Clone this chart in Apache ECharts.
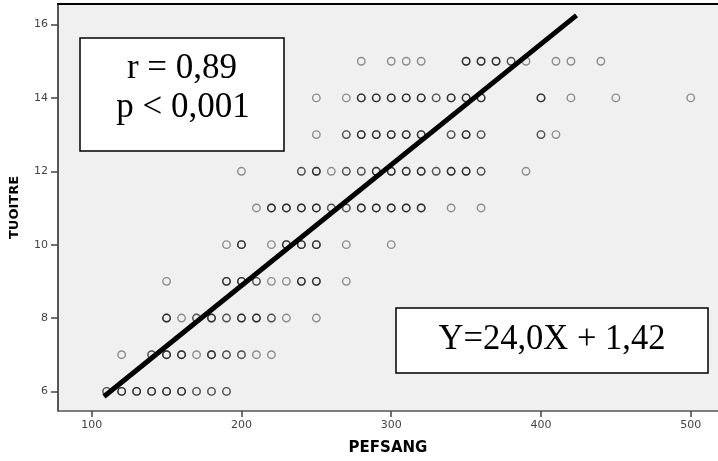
<!DOCTYPE html>
<html>
<head>
    <meta charset="UTF-8">
    <title>PEFSANG - TUOITRE</title>
    <script src="https://cdn.jsdelivr.net/npm/echarts@6/dist/echarts.min.js"></script>
</head>
<body style="margin:0;background:#fff;">
    <div id="main" style="width:718px;height:461px;"></div>
    <script type="text/javascript">
        // 每行: [PEFSANG, 重叠点数]
        var row6 = [[110, 2], [120, 3], [130, 3], [140, 3], [150, 3], [160, 3], [170, 2], [180, 2], [190, 2]];
        var row7 = [[120, 1], [140, 2], [150, 3], [160, 3], [170, 1], [180, 3], [190, 2], [200, 2], [210, 1], [220, 1]];
        var row8 = [[150, 3], [160, 1], [170, 2], [180, 3], [190, 2], [200, 3], [210, 3], [220, 2], [230, 1], [250, 1]];
        var row9 = [[150, 1], [190, 3], [200, 3], [210, 2], [220, 1], [230, 1], [240, 3], [250, 3], [270, 1]];
        var row10 = [[190, 1], [200, 3], [220, 1], [230, 3], [240, 3], [250, 3], [270, 1], [300, 1]];
        var row11 = [[210, 1], [220, 3], [230, 3], [240, 3], [250, 3], [260, 2], [270, 2], [280, 3], [290, 3], [300, 3], [310, 3], [320, 3], [340, 1], [360, 1]];
        var row12 = [[200, 1], [240, 2], [250, 3], [260, 1], [270, 2], [280, 2], [290, 3], [300, 3], [310, 3], [320, 3], [330, 2], [340, 3], [350, 3], [360, 2], [390, 1]];
        var row13 = [[250, 1], [270, 2], [280, 3], [290, 3], [300, 3], [310, 3], [320, 3], [340, 2], [350, 3], [360, 2], [400, 2], [410, 1]];
        var row14 = [[250, 1], [270, 1], [280, 3], [290, 3], [300, 3], [310, 3], [320, 3], [330, 2], [340, 3], [350, 3], [360, 3], [400, 3], [420, 1], [450, 1], [500, 1]];
        var row15 = [[280, 1], [300, 1], [310, 1], [320, 1], [350, 3], [360, 3], [370, 3], [380, 2], [390, 1], [410, 1], [420, 1], [440, 1]];
        var rowY = [6, 7, 8, 9, 10, 11, 12, 13, 14, 15];
        var rows = [row6, row7, row8, row9, row10, row11, row12, row13, row14, row15];

        // 回归线两端
        var fitLine = [[108.2, 5.86], [423.7, 16.25]];

        var xTicks = [100, 200, 300, 400, 500];
        var yTicks = [6, 8, 10, 12, 14, 16];

        // 展开重叠点
        var points = [];
        for (var i = 0; i < rows.length; i++) {
            for (var j = 0; j < rows[i].length; j++) {
                for (var k = 0; k < rows[i][j][1]; k++) {
                    points.push([rows[i][j][0], rowY[i]]);
                }
            }
        }

        var xMin = 77.5, xMax = 518.2, yMin = 5.466, yMax = 16.56;
        var tickFont = { fontFamily: 'DejaVu Sans', fontSize: 11, color: '#444' };

        var myChart = echarts.init(document.getElementById('main'));
        myChart.setOption({
            backgroundColor: '#fff',
            animation: false,
            grid: {
                left: 58, top: 4, right: 0, bottom: 47,
                show: true,
                backgroundColor: '#f0f0f0',
                borderWidth: 0
            },
            xAxis: [{
                type: 'value',
                min: xMin, max: xMax,
                name: 'PEFSANG',
                nameLocation: 'middle',
                nameGap: 30,
                nameTextStyle: { fontFamily: 'DejaVu Sans', fontWeight: 'bold', fontSize: 15, color: '#000' },
                axisLine: { lineStyle: { color: '#555', width: 1.5 } },
                axisTick: { show: true, length: 6, customValues: xTicks, lineStyle: { color: '#444', width: 1.5 } },
                axisLabel: Object.assign({ customValues: xTicks, margin: 9 }, tickFont),
                splitLine: { show: false }
            }, {
                type: 'value',
                position: 'top',
                min: xMin, max: xMax,
                axisLine: { show: true, lineStyle: { color: '#000', width: 2 } },
                axisTick: { show: false },
                axisLabel: { show: false },
                splitLine: { show: false }
            }],
            yAxis: {
                type: 'value',
                min: yMin, max: yMax,
                name: 'TUOITRE',
                nameLocation: 'middle',
                nameGap: 37,
                nameTextStyle: { fontFamily: 'DejaVu Sans', fontWeight: 'bold', fontSize: 13, color: '#000' },
                axisLine: { show: true, lineStyle: { color: '#222', width: 1.5 } },
                axisTick: { show: true, length: 7, customValues: yTicks, lineStyle: { color: '#444', width: 1.5 } },
                axisLabel: Object.assign({ customValues: yTicks, margin: 10 }, tickFont),
                splitLine: { show: false }
            },
            series: [{
                type: 'scatter',
                data: points,
                symbol: 'circle',
                symbolSize: 7.5,
                itemStyle: {
                    color: 'rgba(0,0,0,0)',
                    borderColor: 'rgba(0,0,0,0.52)',
                    borderWidth: 1.4
                },
                z: 2
            }, {
                type: 'line',
                data: fitLine,
                symbol: 'none',
                lineStyle: { color: '#000', width: 5 },
                z: 3
            }],
            graphic: [{
                type: 'group',
                z: 10,
                children: [{
                    type: 'rect',
                    shape: { x: 80, y: 38, width: 204, height: 113 },
                    style: { fill: '#fff', stroke: '#000', lineWidth: 1.5 }
                }, {
                    type: 'text',
                    style: {
                        text: 'r = 0,89', x: 182, y: 69,
                        textAlign: 'center', textVerticalAlign: 'middle',
                        fontFamily: 'Liberation Serif', fontSize: 35, fill: '#000'
                    }
                }, {
                    type: 'text',
                    style: {
                        text: 'p < 0,001', x: 183, y: 108,
                        textAlign: 'center', textVerticalAlign: 'middle',
                        fontFamily: 'Liberation Serif', fontSize: 35, fill: '#000'
                    }
                }, {
                    type: 'rect',
                    shape: { x: 396, y: 308, width: 312, height: 65 },
                    style: { fill: '#fff', stroke: '#000', lineWidth: 1.5 }
                }, {
                    type: 'text',
                    x: 552, y: 340,
                    scaleX: 0.96,
                    style: {
                        text: 'Y=24,0X + 1,42', x: 0, y: 0,
                        textAlign: 'center', textVerticalAlign: 'middle',
                        fontFamily: 'Liberation Serif', fontSize: 36, fill: '#000'
                    }
                }]
            }]
        });
    </script>
</body>
</html>
